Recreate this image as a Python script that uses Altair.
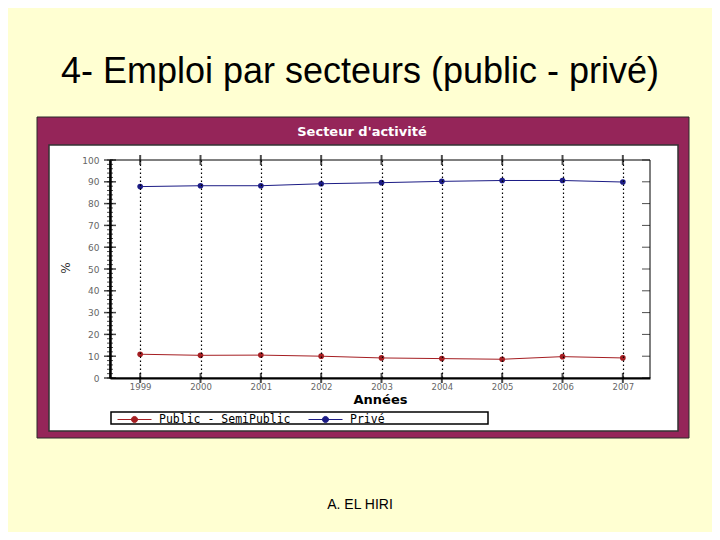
import altair as alt
import pandas as pd

years = [1999, 2000, 2001, 2002, 2003, 2004, 2005, 2006, 2007]
public = [10.9, 10.4, 10.5, 10.0, 9.2, 8.9, 8.6, 9.8, 9.2]
prive = [87.8, 88.2, 88.2, 89.1, 89.6, 90.2, 90.6, 90.6, 89.9]
series = ["Public - SemiPublic", "Privé"]
colors = ["#A51E22", "#1B1B85"]
y_major = list(range(0, 101, 10))
y_minor = list(range(0, 101, 2))

df = pd.DataFrame({
    "Année": years * 2,
    "Valeur": public + prive,
    "Série": [series[0]] * len(years) + [series[1]] * len(years),
})

W, H = 540, 218
one = pd.DataFrame({"k": [0]})

xscale = alt.Scale(domain=[1998.5, 2007.45], nice=False, zero=False)
yscale = alt.Scale(domain=[0, 100], nice=False)

sym = "M-1,0H1M-0.18,0a0.18,0.18 0 1,0 0.36,0a0.18,0.18 0 1,0 -0.36,0"
color = alt.Color(
    "Série:N",
    scale=alt.Scale(domain=series, range=colors),
    legend=alt.Legend(
        orient="none", legendX=7, legendY=242, direction="horizontal", title=None,
        symbolType=sym, symbolSize=1156, symbolStrokeWidth=1,
        labelFont="DejaVu Sans Mono", labelFontSize=11.5, labelColor="black",
        labelOffset=7, columnPadding=15, padding=0,
    ),
)

x_enc = alt.X(
    "Année:Q", scale=xscale, title="Années",
    axis=alt.Axis(values=years, format="d", grid=True, gridDash=[1.5, 2.5], gridColor="black",
                  gridWidth=1.2, gridOpacity=1, ticks=False, domainColor="black", domainWidth=2,
                  labelColor="#666666", labelFont="DejaVu Sans", labelFontSize=8.5, labelPadding=4,
                  titleFont="DejaVu Sans", titleFontSize=13, titleFontWeight="bold",
                  titleColor="black", titlePadding=3, zindex=1),
)
y_enc = alt.Y(
    "Valeur:Q", scale=yscale, title=None,
    axis=alt.Axis(values=y_major, grid=False, ticks=False, domainColor="black", domainWidth=2.5,
                  labelColor="#666666", labelFont="DejaVu Sans", labelFontSize=9, labelPadding=11,
                  labelOverlap=False, zindex=1),
)

frame = alt.Chart(one).mark_rect(fill="#952559", stroke="#2a2a2a", strokeWidth=1).encode(
    x=alt.value(-73), x2=alt.value(579), y=alt.value(-43), y2=alt.value(278))
panel = alt.Chart(one).mark_rect(fill="white", stroke="#333333", strokeWidth=1.5).encode(
    x=alt.value(-61), x2=alt.value(568), y=alt.value(-15), y2=alt.value(271))
frame_title = alt.Chart(one).mark_text(
    text="Secteur d'activité", font="DejaVu Sans", fontSize=13, fontWeight="bold",
    color="white", align="center", baseline="alphabetic").encode(
    x=alt.value(252), y=alt.value(-24))
slide_title = alt.Chart(one).mark_text(
    text="4- Emploi par secteurs (public - privé)", font="Liberation Sans", fontSize=36,
    color="black", align="center", baseline="alphabetic").encode(
    x=alt.value(250), y=alt.value(-77))
footer = alt.Chart(one).mark_text(
    text="A. EL HIRI", font="Liberation Sans", fontSize=14,
    color="black", align="center", baseline="alphabetic").encode(
    x=alt.value(250), y=alt.value(349))
pct = alt.Chart(one).mark_text(
    text="%", font="DejaVu Sans", fontSize=12, color="#333333", angle=270,
    align="center", baseline="middle").encode(x=alt.value(-44), y=alt.value(108))
legend_box = alt.Chart(one).mark_rect(fill="white", stroke="black", strokeWidth=1.5).encode(
    x=alt.value(1), x2=alt.value(378), y=alt.value(252), y2=alt.value(264))
plot_border = alt.Chart(one).mark_rect(filled=False, stroke="black", strokeWidth=1).encode(
    x=alt.value(0), x2=alt.value(W), y=alt.value(0), y2=alt.value(H))

minor = alt.Chart(pd.DataFrame({"Valeur": y_minor})).mark_tick(
    color="black", thickness=1, size=6, orient="horizontal").encode(
    y=y_enc, x=alt.value(0))
major = alt.Chart(pd.DataFrame({"Valeur": y_major})).mark_tick(
    color="black", thickness=1.5, size=12, orient="horizontal").encode(
    y=y_enc, x=alt.value(0))
right_ticks = alt.Chart(pd.DataFrame({"Valeur": y_major})).mark_tick(
    color="black", thickness=1, size=8, orient="horizontal").encode(
    y=y_enc, x=alt.value(W - 4))
xticks_bot = alt.Chart(pd.DataFrame({"Année": years})).mark_tick(
    color="black", thickness=2, size=10, orient="vertical").encode(
    x=x_enc, y=alt.value(H))
xticks_top = alt.Chart(pd.DataFrame({"Année": years})).mark_tick(
    color="black", thickness=2, size=10, orient="vertical").encode(
    x=x_enc, y=alt.value(0))

base = alt.Chart(df).encode(x=x_enc, y=y_enc, color=color)
lines = base.mark_line(strokeWidth=1)
points = base.mark_point(filled=True, size=32, opacity=1)

chart = alt.layer(
    frame, panel, frame_title, slide_title, footer, pct, legend_box, plot_border,
    minor, major, right_ticks, xticks_bot, xticks_top, lines, points,
).properties(
    width=W, height=H,
    autosize=alt.AutoSizeParams(type="none"),
    padding={"left": 102, "top": 152, "right": 62, "bottom": 154},
    background="#FFFFD2",
).configure_view(stroke=None)

chart.save("out.html", embed_options={"renderer": "svg", "actions": False})
